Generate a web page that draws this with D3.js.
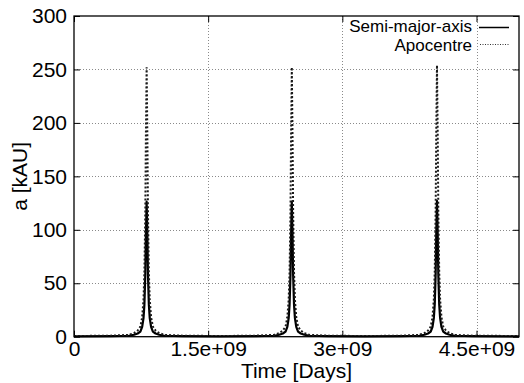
<!DOCTYPE html>
<html><head><meta charset="utf-8">
<script src="https://cdn.jsdelivr.net/npm/d3@7"></script>
<style>
html,body{margin:0;padding:0;background:#fff;}
svg{display:block;font-family:"Liberation Sans",Arial,Helvetica,sans-serif;}
</style></head>
<body>
<svg id="chart" width="524" height="383"></svg>
<script>
// ---- data ----
const timeDays = [
  0,
  0.412e9, 0.612e9, 0.672e9, 0.712e9, 0.742e9, 0.762e9, 0.777e9, 0.787e9, 0.797e9, 0.804e9, 0.812e9,
  0.820e9, 0.827e9, 0.837e9, 0.847e9, 0.862e9, 0.882e9, 0.912e9, 0.952e9, 1.012e9, 1.212e9,
  1.62e9,
  2.035e9, 2.235e9, 2.295e9, 2.335e9, 2.365e9, 2.385e9, 2.400e9, 2.410e9, 2.420e9, 2.427e9, 2.435e9,
  2.443e9, 2.450e9, 2.460e9, 2.470e9, 2.485e9, 2.505e9, 2.535e9, 2.575e9, 2.635e9, 2.835e9,
  3.25e9,
  3.658e9, 3.858e9, 3.918e9, 3.958e9, 3.988e9, 4.008e9, 4.023e9, 4.033e9, 4.043e9, 4.050e9, 4.058e9,
  4.066e9, 4.073e9, 4.083e9, 4.093e9, 4.108e9, 4.128e9, 4.158e9, 4.198e9, 4.258e9, 4.458e9,
  4.975e9
];
const semiMajorAxis = [
  0.3,
  0.5, 0.9, 1.8, 3.0, 4.8, 9.2, 17.4, 30, 58, 95, 126.3,
  95, 58, 30, 17.4, 9.2, 4.8, 3.0, 1.8, 0.9, 0.5,
  0.3,
  0.5, 0.9, 1.8, 3.0, 4.8, 9.2, 17.4, 30, 58, 95, 126.3,
  95, 58, 30, 17.4, 9.2, 4.8, 3.0, 1.8, 0.9, 0.5,
  0.3,
  0.5, 0.9, 1.8, 3.0, 4.8, 9.3, 17.6, 30.5, 58.5, 96, 127,
  96, 58.5, 30.5, 17.6, 9.3, 4.8, 3.0, 1.8, 0.9, 0.5,
  0.3
];
const apocentre = [
  0.6,
  1.0, 1.7, 3.4, 5.8, 9.4, 18.2, 34.6, 59.8, 115.8, 189.5, 252,
  189.5, 115.8, 59.8, 34.6, 18.2, 9.4, 5.8, 3.4, 1.7, 1.0,
  0.6,
  1.0, 1.7, 3.4, 5.8, 9.4, 18.2, 34.6, 59.8, 115.8, 189.5, 252,
  189.5, 115.8, 59.8, 34.6, 18.2, 9.4, 5.8, 3.4, 1.7, 1.0,
  0.6,
  1.0, 1.7, 3.4, 5.8, 9.4, 18.4, 35, 60.6, 117, 192, 254,
  192, 117, 60.6, 35, 18.4, 9.4, 5.8, 3.4, 1.7, 1.0,
  0.6
];
const xTickValues = [0, 1.5e9, 3e9, 4.5e9];
const xTickLabels = ["0", "1.5e+09", "3e+09", "4.5e+09"];
const yTickValues = [0, 50, 100, 150, 200, 250, 300];
const yTickLabels = ["0", "50", "100", "150", "200", "250", "300"];
const seriesNames = ["Semi-major-axis", "Apocentre"];
const xTitle = "Time [Days]";
const yTitle = "a [kAU]";

// ---- layout ----
const W = 524, H = 383;
const L = 74, R = 519, T = 16, B = 336.7;
const svg = d3.select("#chart");

const x = d3.scaleLinear().domain([0, 4.975e9]).range([L, R]);
const y = d3.scaleLinear().domain([0, 300]).range([B, T]);

// grid
const grid = svg.append("g").attr("stroke", "#8a8a8a").attr("stroke-width", 1).attr("stroke-dasharray", "1,2");
grid.selectAll("line.gx").data(xTickValues.slice(1)).join("line")
  .attr("x1", d => Math.round(x(d)) + 0.5).attr("x2", d => Math.round(x(d)) + 0.5)
  .attr("y1", T).attr("y2", B);
grid.selectAll("line.gy").data(yTickValues.slice(1, -1)).join("line")
  .attr("y1", d => Math.round(y(d)) + 0.5).attr("y2", d => Math.round(y(d)) + 0.5)
  .attr("x1", L).attr("x2", R);

// axes
const fs = 21;
const axL = svg.append("g").attr("transform", `translate(${L},0)`)
  .call(d3.axisLeft(y).tickValues(yTickValues).tickSize(-6).tickPadding(7)
    .tickFormat((d, i) => yTickLabels[i]));
const axR = svg.append("g").attr("transform", `translate(${R},0)`)
  .call(d3.axisRight(y).tickValues(yTickValues).tickSize(-6).tickFormat(""));
const axB = svg.append("g").attr("transform", `translate(0,${B})`)
  .call(d3.axisBottom(x).tickValues(xTickValues).tickSize(-6).tickPadding(4)
    .tickFormat((d, i) => xTickLabels[i]));
const axT = svg.append("g").attr("transform", `translate(0,${T})`)
  .call(d3.axisTop(x).tickValues(xTickValues).tickSize(-6).tickFormat(""));
[axL, axR, axB, axT].forEach(a => {
  a.select(".domain").remove();
  a.selectAll("line").attr("stroke", "#000");
  a.selectAll("text").attr("font-size", fs).attr("fill", "#000")
    .attr("font-family", '"Liberation Sans",Arial,sans-serif');
});

// data lines
const lineSemi = d3.line().x((d, i) => x(timeDays[i])).y(d => y(d));
svg.append("path").datum(semiMajorAxis).attr("d", lineSemi)
  .attr("fill", "none").attr("stroke", "#000").attr("stroke-width", 2.2).attr("stroke-linejoin", "round");
svg.append("path").datum(apocentre).attr("d", lineSemi)
  .attr("fill", "none").attr("stroke", "#1a1a1a").attr("stroke-width", 2).attr("stroke-dasharray", "2,2");

// frame
svg.append("rect").attr("x", L).attr("y", T).attr("width", R - L).attr("height", B - T)
  .attr("fill", "none").attr("stroke", "#000").attr("stroke-width", 1.3);

// legend
const lg = svg.append("g").attr("font-size", 17);
const legY = [31.5, 50.5];
lg.selectAll("text").data(seriesNames).join("text")
  .attr("x", 472).attr("y", (d, i) => legY[i]).attr("text-anchor", "end").text(d => d);
lg.append("line").attr("x1", 479).attr("x2", 509).attr("y1", legY[0] - 4).attr("y2", legY[0] - 4)
  .attr("stroke", "#000").attr("stroke-width", 1.5);
lg.append("line").attr("x1", 480).attr("x2", 509).attr("y1", legY[1] - 6).attr("y2", legY[1] - 6)
  .attr("stroke", "#333").attr("stroke-width", 1).attr("stroke-dasharray", "1,1.5");

// axis titles
svg.append("text").attr("x", (L + R) / 2).attr("y", 378).attr("text-anchor", "middle")
  .attr("font-size", fs).text(xTitle);
svg.append("text").attr("transform", `translate(27,${(T + B) / 2}) rotate(-90)`)
  .attr("text-anchor", "middle").attr("font-size", fs).text(yTitle);
</script>
</body></html>
